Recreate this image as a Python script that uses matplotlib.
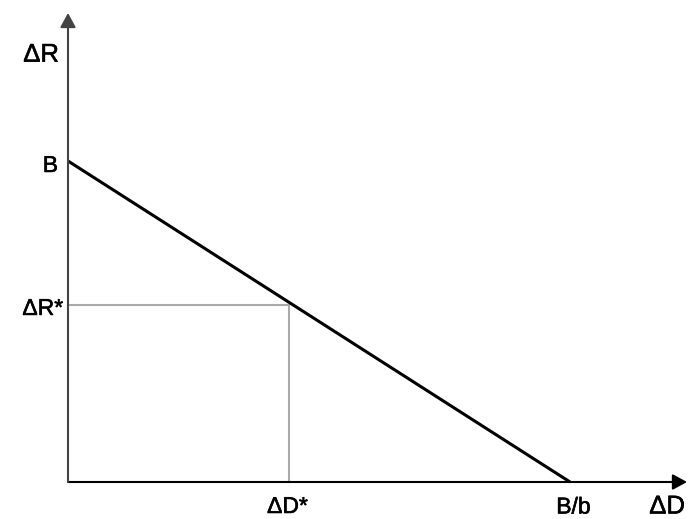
import matplotlib
matplotlib.use('Agg')
import matplotlib.pyplot as plt
import matplotlib.patheffects as pe

plt.rcParams['font.family'] = ['Liberation Sans', 'DejaVu Sans']

# model values (B = intercept on the vertical axis, B/b on the horizontal axis)
B = 1.0
b = 1.0
dD_star = 0.44
dR_star = 0.55

# axis extents, in the same units
x_max = 1.233
y_max = 1.461

fig = plt.figure(figsize=(6.89, 5.19), dpi=100)
ax = fig.add_axes([68 / 689, 37 / 519, 619 / 689, 469 / 519])
ax.set_xlim(0, x_max)
ax.set_ylim(0, y_max)
ax.axis('off')

# axes with arrow heads
arrow = dict(arrowstyle='-|>,head_length=0.86,head_width=0.47', mutation_scale=10,
             shrinkA=0, shrinkB=0, lw=1.5, color='black')
ax.annotate('', xy=(x_max, 0), xytext=(0, 0), arrowprops=arrow, annotation_clip=False)
ax.annotate('', xy=(0, y_max), xytext=(0, 0),
            arrowprops=dict(arrow, color='#444444'), annotation_clip=False)

# guide lines to the optimum
ax.plot([0, dD_star], [dR_star, dR_star], color='#aaaaaa', lw=1.5, clip_on=False)
ax.plot([dD_star, dD_star], [0, dR_star], color='#aaaaaa', lw=1.5, clip_on=False)

# budget line
ax.plot([0, B / b], [B, 0], color='black', lw=2.2, clip_on=False, solid_capstyle='butt')

# labels
heavy = [pe.withStroke(linewidth=0.4, foreground='black')]

def label(txt, xy, off, size, ha):
    ax.annotate(txt, xy=xy, xytext=off, textcoords='offset pixels',
                ha=ha, va='baseline', fontsize=size, annotation_clip=False,
                path_effects=heavy)

label('ΔR', (0, y_max), (-9, -48.7), 18.5, 'right')
label('ΔD', (x_max, 0), (-2, -31.5), 18.5, 'right')
label('B', (0, B), (-10, -11), 16.5, 'right')
label('ΔR*', (0, dR_star), (-5, -9.5), 16.5, 'right')
label('ΔD*', (dD_star, 0), (-1.5, -31), 16.5, 'center')
label('B/b', (B / b, 0), (3.4, -31.5), 16.5, 'center')

fig.savefig('out.png', dpi=100)
